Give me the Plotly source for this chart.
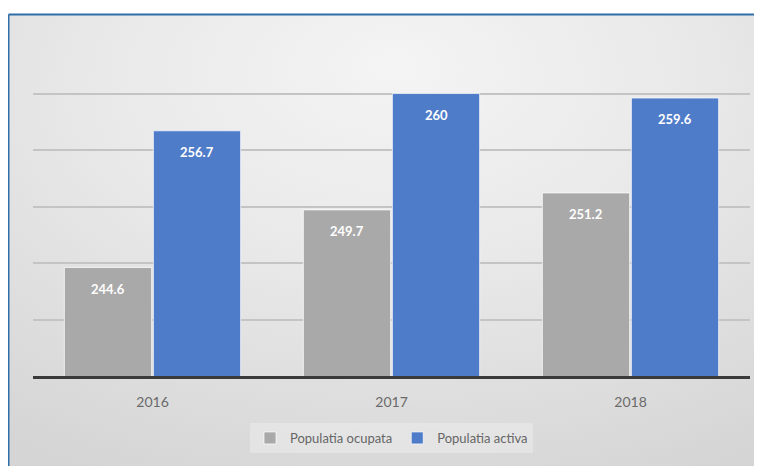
import base64
import plotly.graph_objects as go

years = ["2016", "2017", "2018"]
ocupata = [244.6, 249.7, 251.2]
activa = [256.7, 260.0, 259.6]
series_names = ["Populatia ocupata", "Populatia activa"]
label_ocupata = ["244.6", "249.7", "251.2"]
label_activa = ["256.7", "260", "259.6"]

# page is offset by 8px body margin
W, H = 762, 466
ML, MR, MT, MB = 25, 20, 81, 98
PW, PH = W - ML - MR, H - MT - MB

def px_to_paper_x(px):
    return (px - ML) / PW

def px_to_paper_y(py):
    return 1 - (py - MT) / PH

svg = """<svg xmlns='http://www.w3.org/2000/svg' width='760' height='460' preserveAspectRatio='none'>
<defs><radialGradient id='g' cx='0.5' cy='0.2' r='0.85' fx='0.5' fy='0.1'>
<stop offset='0' stop-color='#f4f4f4'/><stop offset='0.45' stop-color='#e9e9e9'/>
<stop offset='1' stop-color='#d5d5d5'/></radialGradient></defs>
<rect width='760' height='460' fill='url(#g)'/></svg>"""
bg_uri = "data:image/svg+xml;base64," + base64.b64encode(svg.encode()).decode()

fig = go.Figure()
fig.add_bar(x=years, y=ocupata, name=series_names[0], marker=dict(color="#a9a9a9", line=dict(color="rgba(255,255,255,0.7)", width=1)))
fig.add_bar(x=years, y=activa, name=series_names[1], marker=dict(color="#4f7cc9", line=dict(color="rgba(255,255,255,0.7)", width=1)))

bar_slot = PW / len(years) * (1 - 0.255) / 2
for i in range(len(years)):
    fig.add_annotation(x=i, y=ocupata[i], text="<b>" + label_ocupata[i] + "</b>", showarrow=False,
                       xshift=-bar_slot / 2, yshift=-21, yanchor="middle",
                       font=dict(color="white", size=13, family="Lato"), )
    fig.add_annotation(x=i, y=activa[i], text="<b>" + label_activa[i] + "</b>", showarrow=False,
                       xshift=bar_slot / 2, yshift=-21, yanchor="middle",
                       font=dict(color="white", size=13, family="Lato"))

x0 = px_to_paper_x(0.5)
y0 = px_to_paper_y(6.5)
x1 = px_to_paper_x(775)
y1 = px_to_paper_y(480)
fig.add_layout_image(source=bg_uri, xref="paper", yref="paper", x=x0, y=y0,
                     sizex=x1 - x0, sizey=y0 - y1, xanchor="left", yanchor="top",
                     sizing="stretch", layer="below")
fig.add_shape(type="line", xref="paper", yref="paper", x0=x0, x1=x1, y0=y0, y1=y0,
              line=dict(color="#2f6fa8", width=2))
fig.add_shape(type="line", xref="paper", yref="paper", x0=x0, x1=x0, y0=y0, y1=y1,
              line=dict(color="#2f6fa8", width=2))

fig.update_layout(
    width=W, height=H,
    margin=dict(l=ML, r=MR, t=MT, b=MB),
    paper_bgcolor="white", plot_bgcolor="rgba(0,0,0,0)",
    barmode="group", bargap=0.255, bargroupgap=0.02,
    font=dict(family="Lato", color="#595959", size=13),
    showlegend=True,
    legend=dict(orientation="h", x=0.5, xanchor="center", y=px_to_paper_y(430), yanchor="middle",
                bgcolor="rgba(245,245,245,0.35)", font=dict(size=13, color="#666666"),
                itemwidth=30, tracegroupgap=0),
    xaxis=dict(type="category", range=[-0.5, len(years) - 0.5], showline=True, linecolor="#3a3a3a",
               linewidth=2.5, ticks="", showgrid=False, ticklabelstandoff=11,
               tickfont=dict(size=14, color="#6a6a6a")),
    yaxis=dict(range=[235, 260.4], tick0=235, dtick=5, showticklabels=False, showgrid=True,
               gridcolor="#c4c4c4", gridwidth=1.5, zeroline=False),
)
fig.write_html("out.html")
